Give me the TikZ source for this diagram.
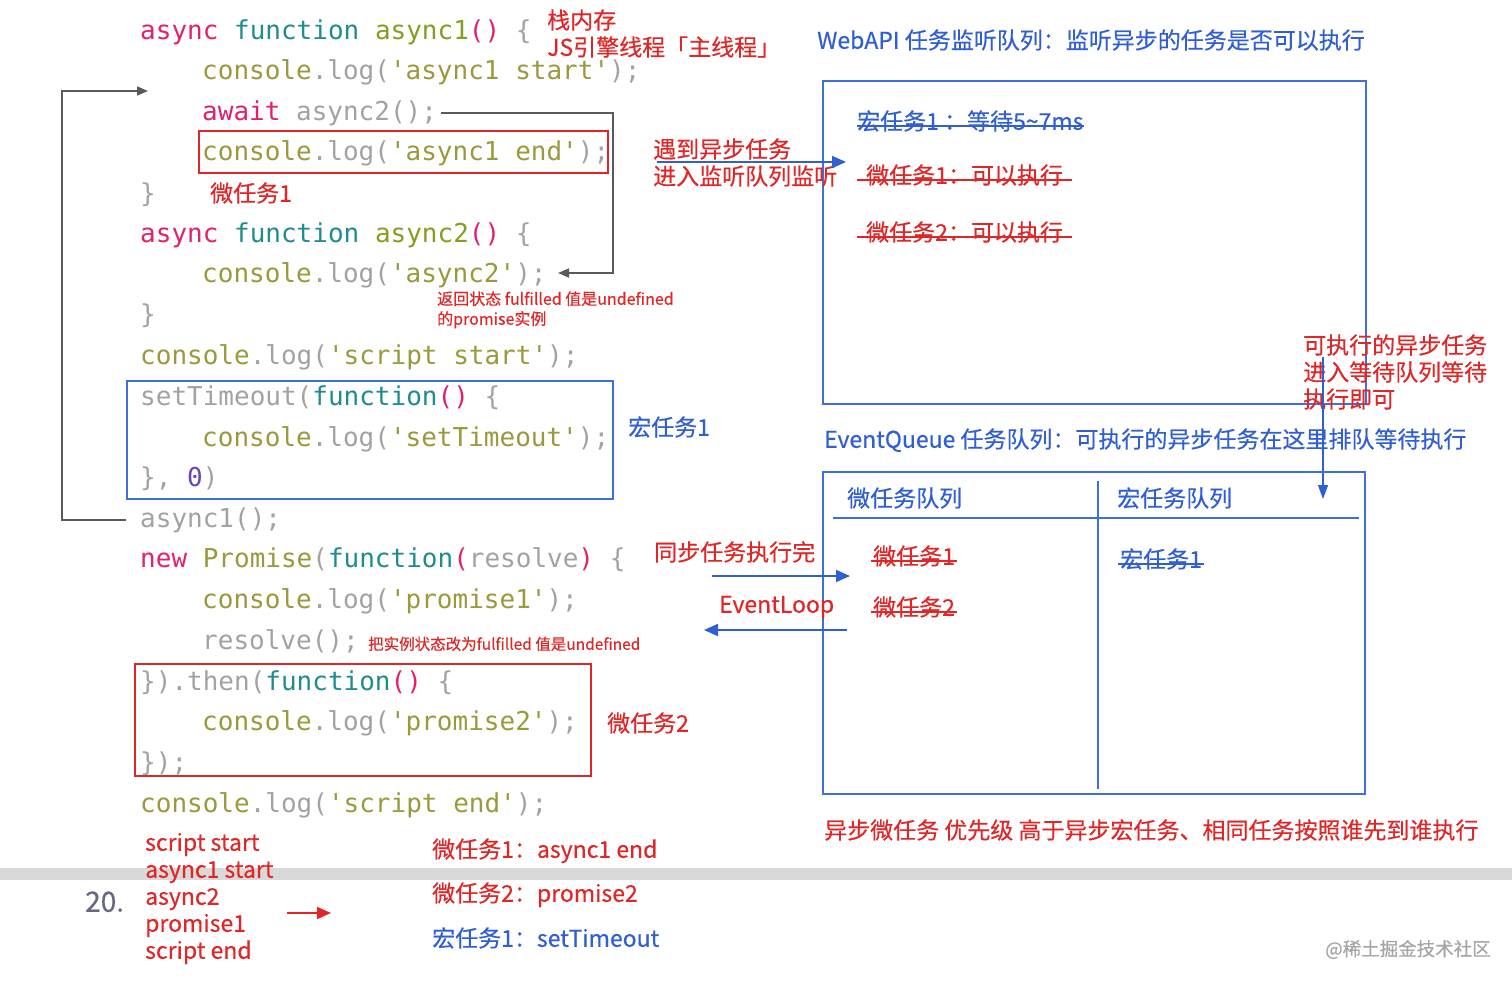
\documentclass[tikz,border=0pt]{standalone}
\usepackage{fontspec}
\usetikzlibrary{arrows.meta}
\newfontfamily\cjk{Noto Sans CJK SC}[FakeBold=0.35]
\newfontfamily\codefont{DejaVu Sans Mono}
\definecolor{ckw}{HTML}{E3206E}
\definecolor{cfn}{HTML}{1F8C8E}
\definecolor{cnm}{HTML}{82A01E}
\definecolor{ccs}{HTML}{9A9A3C}
\definecolor{cgr}{HTML}{A2A2A2}
\definecolor{cnu}{HTML}{6A45B8}
\definecolor{ared}{HTML}{E02626}
\definecolor{ablue}{HTML}{2F5FD3}
\definecolor{bblue}{HTML}{3E6FDB}
\definecolor{conn}{HTML}{5A5A5A}
\newcommand{\Kw}[1]{\textcolor{ckw}{#1}}
\newcommand{\Fn}[1]{\textcolor{cfn}{#1}}
\newcommand{\Nm}[1]{\textcolor{cnm}{#1}}
\newcommand{\Cs}[1]{\textcolor{ccs}{#1}}
\newcommand{\Gr}[1]{\textcolor{cgr}{#1}}
\newcommand{\Nu}[1]{\textcolor{cnu}{#1}}
\newcommand{\Clog}[1]{\Cs{console}\Gr{.log(}\Cs{'#1'}\Gr{);}}
\tikzset{
  code/.style={anchor=west, inner sep=0pt, text height=0.8em, text depth=0.14em, yshift=-6pt,
    font=\codefont\fontsize{26}{30}\selectfont},
  lbl/.style={anchor=west, inner sep=0pt, text height=0.85em, text depth=0.1em, yshift=-5pt,
    font=\cjk\fontsize{23}{26}\selectfont},
  small/.style={anchor=west, inner sep=0pt, text height=0.85em, text depth=0.1em, yshift=-4pt,
    font=\cjk\fontsize{16}{18}\selectfont},
  redt/.style={text=ared},
  bluet/.style={text=ablue},
  redbox/.style={draw=ared, line width=1.6pt, inner sep=0pt},
  bluebox/.style={draw=bblue, line width=1.6pt, inner sep=0pt},
  gconn/.style={draw=conn, line width=1.6pt, -{Triangle[length=11pt,width=9pt]}},
  barrow/.style={draw=ablue, line width=1.8pt, -{Triangle[length=14pt,width=12pt]}},
  rarrow/.style={draw=ared, line width=1.8pt, -{Triangle[length=14pt,width=12pt]}},
  strikeR/.style={draw=ared, line width=1.5pt},
  strikeB/.style={draw=ablue, line width=1.5pt},
}
\begin{document}
\begin{tikzpicture}[x=1pt,y=-1pt]
\useasboundingbox (0,0) rectangle (1512,983);
\fill[white] (0,0) rectangle (1512,983);
% gray separator band
\fill[gray!30] (0,868) rectangle (1512,880);

% ---- code ----
\node[code] (c1) at (140,30) {\Kw{async} \Fn{function} \Nm{async1}\Kw{()} \Gr{\{}};
\node[code] (c2) at (202,70) {\Clog{async1 start}};
\node[code] (c3) at (202,111) {\Kw{await} \Gr{async2();}};
\node[code] (c4) at (202,151) {\Clog{async1 end}};
\node[code] (c5) at (140,193) {\Gr{\}}};
\node[code] (c6) at (140,233) {\Kw{async} \Fn{function} \Nm{async2}\Kw{()} \Gr{\{}};
\node[code] (c7) at (202,273) {\Clog{async2}};
\node[code] (c8) at (140,314) {\Gr{\}}};
\node[code] (c9) at (140,355) {\Clog{script start}};
\node[code] (c10) at (140,396) {\Gr{setTimeout(}\Fn{function}\Kw{()} \Gr{\{}};
\node[code] (c11) at (202,437) {\Clog{setTimeout}};
\node[code] (c12) at (140,477) {\Gr{\},} \Nu{0}\Gr{)}};
\node[code] (c13) at (140,518) {\Gr{async1();}};
\node[code] (c14) at (140,558) {\Kw{new} \Cs{Promise}\Gr{(}\Fn{function}\Kw{(}\Gr{resolve}\Kw{)} \Gr{\{}};
\node[code] (c15) at (202,599) {\Clog{promise1}};
\node[code] (c16) at (202,640) {\Gr{resolve();}};
\node[code] (c17) at (140,681) {\Gr{\}).then(}\Fn{function}\Kw{()} \Gr{\{}};
\node[code] (c18) at (202,721) {\Clog{promise2}};
\node[code] (c19) at (140,762) {\Gr{\});}};
\node[code] (c20) at (140,803) {\Clog{script end}};

% ---- code boxes ----
\node[redbox, minimum width=409pt, minimum height=42pt] (rb1) at (403.5,152) {};
\node[bluebox, minimum width=486pt, minimum height=118pt] (bb1) at (370,440) {};
\node[redbox, minimum width=456pt, minimum height=112pt] (rb2) at (363,720) {};

% ---- gray connectors ----
\coordinate (La) at (126,520);
\coordinate (Lb) at (148,91);
\draw[gconn] (La) -- ++(-64,0) |- (Lb);
\coordinate (Ra) at (441,113);
\coordinate (Rb) at (558,273);
\draw[gconn] (Ra) -- ++(172,0) |- (Rb);

% ---- left annotations ----
\node[lbl, redt] (stk1) at (547,20) {栈内存};
\node[lbl, redt] (stk2) at (547,47) {JS引擎线程「主线程」};
\node[lbl, redt] (mt1) at (210,193) {微任务1};
\node[small, redt] (ret1) at (437,297) {返回状态 fulfilled 值是undefined};
\node[small, redt] (ret2) at (437,317) {的promise实例};
\node[lbl, bluet] (mac1) at (628,427) {宏任务1};
\node[small, redt, font=\cjk\fontsize{15.5}{18}\selectfont, yshift=1pt] (rsn) at (368,643) {把实例状态改为fulfilled 值是undefined};
\node[lbl, redt] (mt2) at (607,723) {微任务2};

% ---- WebAPI ----
\node[lbl, bluet] (wtitle) at (817,40) {WebAPI 任务监听队列：监听异步的任务是否可以执行};
\node[bluebox, minimum width=543pt, minimum height=323pt] (wbox) at (1094.5,242.5) {};
\node[lbl, bluet] (w1) at (857,121) {宏任务1 ：等待5\textasciitilde 7ms};
\draw[strikeB] (w1.west) -- (w1.east);
\node[lbl, redt, inner xsep=9pt] (w2) at (857,175) {微任务1：可以执行};
\draw[strikeR] (w2.west) -- (w2.east);
\node[lbl, redt, inner xsep=9pt] (w3) at (857,232) {微任务2：可以执行};
\draw[strikeR] (w3.west) -- (w3.east);
\node[lbl, redt] (meet1) at (653,149) {遇到异步任务};
\node[lbl, redt] (meet2) at (653,176) {进入监听队列监听};
\coordinate (A1s) at (657,162);
\coordinate (A1e) at (846,162);
\draw[barrow] (A1s) -- (A1e);

% ---- executable note ----
\node[lbl, redt] (ex1) at (1303,345) {可执行的异步任务};
\node[lbl, redt] (ex2) at (1303,372) {进入等待队列等待};
\node[lbl, redt] (ex3) at (1303,399) {执行即可};
\coordinate (A2s) at (1323,357);
\coordinate (A2e) at (1323,499);
\draw[draw=ablue, line width=1.4pt, -{Triangle[length=14pt,width=10pt]}] (A2s) -- (A2e);

% ---- EventQueue ----
\node[lbl, bluet] (etitle) at (824,439) {EventQueue 任务队列：可执行的异步任务在这里排队等待执行};
\node[bluebox, minimum width=542pt, minimum height=322pt] (ebox) at (1094,633) {};
\coordinate (Dv1) at (1098,481);
\coordinate (Dv2) at (1098,789);
\draw[draw=bblue, line width=1.6pt] (Dv1) -- (Dv2);
\coordinate (Hl1) at (833,518);
\coordinate (Hl2) at (1359,518);
\draw[draw=bblue, line width=2pt] (Hl1) -- (Hl2);
\node[lbl, bluet] (mq) at (847,498) {微任务队列};
\node[lbl, bluet] (Mq) at (1117,498) {宏任务队列};
\node[lbl, redt, inner xsep=2pt] (q1) at (871,556) {微任务1};
\draw[strikeR] (q1.west) -- (q1.east);
\node[lbl, redt, inner xsep=2pt] (q2) at (871,607) {微任务2};
\draw[strikeR] (q2.west) -- (q2.east);
\node[lbl, bluet, inner xsep=2pt] (q3) at (1118,559) {宏任务1};
\draw[strikeB] (q3.west) -- (q3.east);
\node[lbl, redt] (sync) at (654,552) {同步任务执行完};
\node[lbl, redt] (el) at (719,604) {EventLoop};
\coordinate (A3s) at (712,576);
\coordinate (A3e) at (850,576);
\draw[barrow] (A3s) -- (A3e);
\coordinate (A4s) at (847,630);
\coordinate (A4e) at (704,630);
\draw[barrow] (A4s) -- (A4e);
\node[lbl, redt] (prio) at (824,830) {异步微任务 优先级 高于异步宏任务、相同任务按照谁先到谁执行};

% ---- bottom ----
\node[lbl, text=black!80!blue!60, font=\cjk\fontsize{28}{30}\selectfont] (n20) at (85,903) {20.};
\node[lbl, redt] (o1) at (145,842) {script start};
\node[lbl, redt] (o2) at (145,869) {async1 start};
\node[lbl, redt] (o3) at (145,896) {async2};
\node[lbl, redt] (o4) at (145,923) {promise1};
\node[lbl, redt] (o5) at (145,950) {script end};
\coordinate (A5s) at (287,913);
\coordinate (A5e) at (331,913);
\draw[rarrow] (A5s) -- (A5e);
\node[lbl, redt] (r1) at (432,849) {微任务1：async1 end};
\node[lbl, redt] (r2) at (432,893) {微任务2：promise2};
\node[lbl, bluet] (r3) at (432,938) {宏任务1：setTimeout};
\node[lbl, text=gray!70, font=\cjk\fontsize{18.5}{20}\selectfont] (wm) at (1325,947) {@稀土掘金技术社区};
\end{tikzpicture}
\end{document}
